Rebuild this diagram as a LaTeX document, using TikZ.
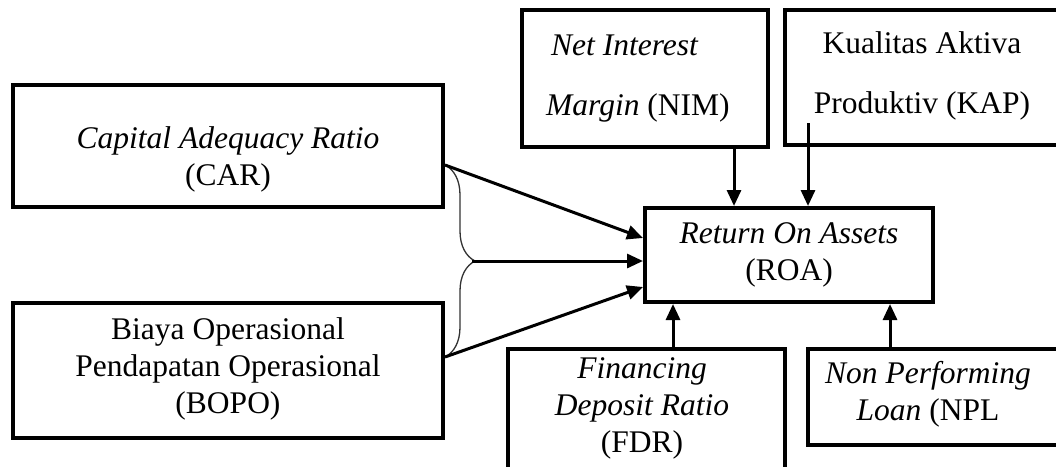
\documentclass[tikz,border=0pt]{standalone}
\usepackage{fontspec}
\setmainfont{Liberation Serif}
\usetikzlibrary{arrows.meta,decorations.pathreplacing}
\tikzstyle{factor} = [rectangle, draw=black, line width=4pt, inner sep=0pt]
\tikzstyle{factortext} = [align=center, anchor=base, inner sep=0pt, font=\fontsize{31.5}{37}\selectfont]
\tikzstyle{link} = [line width=3pt, -{Triangle[length=16pt,width=14pt]}]
\tikzstyle{grouping} = [decorate, decoration={brace, amplitude=30pt}, line width=1.3pt, draw=black!80]

\begin{document}
\begin{tikzpicture}[x=1pt, y=-1pt]
\useasboundingbox (0,0) rectangle (1056,466);
\clip (0,0) rectangle (1056,466);

 % left side
 \node (car) [factor, minimum width=430pt, minimum height=122pt] at (228,146) {};
 \node (carText) [factortext] at (228,185) {\textit{Capital Adequacy Ratio}\\(CAR)};
 \node (bopo) [factor, minimum width=430pt, minimum height=135pt] at (228,370.5) {};
 \node (bopoText) [factortext] at (228,413) {Biaya Operasional\\Pendapatan Operasional\\(BOPO)};

 % dependent variable
 \node (roa) [factor, minimum width=288pt, minimum height=94pt] at (789,255) {};
 \node (roaText) [factortext] at (789,280) {\textit{Return On Assets}\\(ROA)};

 % top
 \node (nim) [factor, minimum width=246pt, minimum height=137pt] at (645,78.5) {};
 \node (nimText) [factortext, align=left, anchor=base west] at (546,115) {\hspace{5pt}\textit{Net Interest}\\[23pt]\textit{Margin} (NIM)};
 \node (kap) [factor, minimum width=274pt, minimum height=135pt] at (922,77.5) {};
 \node (kapText) [factortext] at (922,113) {Kualitas Aktiva\\[23pt]Produktiv (KAP)};

 % bottom
 \node (fdr) [factor, minimum width=277pt, minimum height=160pt] at (646.5,429) {};
 \node (fdrText) [factortext] at (642,452) {\textit{Financing}\\\textit{Deposit Ratio}\\(FDR)};
 \node (npl) [factor, minimum width=254pt, minimum height=96pt] at (935,397) {};
 \node (nplText) [factortext] at (928,420) {\textit{Non Performing}\\\textit{Loan} (NPL};

 % connectors
 \coordinate (carOut) at ([yshift=-19pt]car.east);
 \coordinate (bopoOut) at ([yshift=13.5pt]bopo.east);
 \coordinate (braceTip) at (472,261);
 \coordinate (kapTail) at (808,123);
 \draw[grouping] (carOut) -- (bopoOut);
 \draw[link] (carOut) -- ([yshift=17pt]roa.west);
 \draw[link] (braceTip) -- (braceTip -| roa.west);
 \draw[link] (bopoOut) -- ([yshift=-32pt]roa.west);
 \draw[link] ([xshift=89pt]nim.south) -- ([xshift=89pt]nim.south |- roa.north);
 \draw[link] (kapTail) -- (kapTail |- roa.north);
 \draw[link] ([xshift=26.5pt]fdr.north) -- ([xshift=26.5pt]fdr.north |- roa.south);
 \draw[link] ([xshift=-45pt]npl.north) -- ([xshift=-45pt]npl.north |- roa.south);
\end{tikzpicture}
\end{document}
